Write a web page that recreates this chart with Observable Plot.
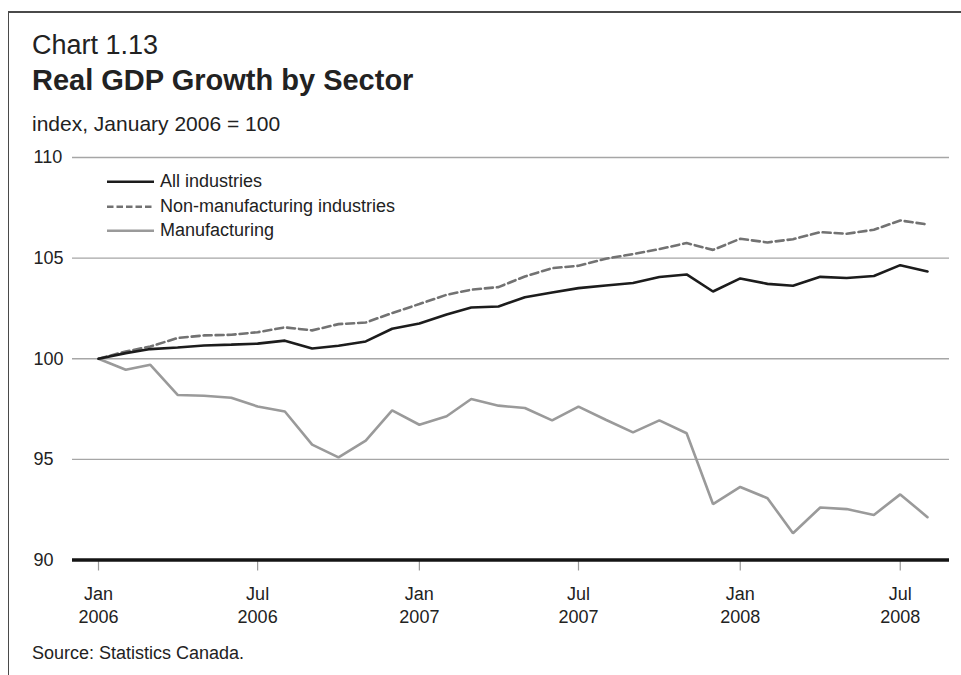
<!DOCTYPE html>
<html>
<head>
<meta charset="utf-8">
<script src="https://cdn.jsdelivr.net/npm/d3@7"></script>
<script src="https://cdn.jsdelivr.net/npm/@observablehq/plot@0.6"></script>
<style>
  html, body { margin: 0; padding: 0; background: #fff; }
  body { width: 961px; height: 675px; position: relative; overflow: hidden;
         font-family: "Liberation Sans", Arial, Helvetica, sans-serif; color: #222; }
  .frame { position: absolute; left: 8px; top: 11px; right: -2px; bottom: -2px;
           border-top: 2px solid #4a4a4a; border-left: 1.5px solid #4a4a4a; }
  .t { position: absolute; left: 32px; white-space: nowrap; line-height: 1; }
  #chart { position: absolute; left: 0; top: 140px; }
  .legend { position: absolute; left: 107px; top: 170px; }
  .legend .row { position: absolute; left: 0; height: 24px; white-space: nowrap; }
  .legend svg { position: absolute; left: 0; top: 0; }
  .legend span { position: absolute; left: 53px; top: 2px; font-size: 18px; line-height: 1; }
</style>
</head>
<body>
<div class="frame"></div>
<div class="t" style="top:32px;font-size:27px;">Chart 1.13</div>
<div class="t" style="top:66px;font-size:29px;font-weight:bold;">Real GDP Growth by Sector</div>
<div class="t" style="top:113px;font-size:21px;">index, January 2006 = 100</div>
<div id="chart"></div>
<div class="legend" id="legend"></div>
<div class="t" style="top:644px;font-size:18px;">Source: Statistics Canada.</div>
<script>
const months = [
  "2006-01","2006-02","2006-03","2006-04","2006-05","2006-06","2006-07","2006-08","2006-09","2006-10","2006-11","2006-12",
  "2007-01","2007-02","2007-03","2007-04","2007-05","2007-06","2007-07","2007-08","2007-09","2007-10","2007-11","2007-12",
  "2008-01","2008-02","2008-03","2008-04","2008-05","2008-06","2008-07","2008-08"
];
const allIndustries = [100, 100.28, 100.48, 100.56, 100.66, 100.70, 100.75, 100.90, 100.51, 100.65, 100.86, 101.49,
  101.75, 102.20, 102.55, 102.60, 103.06, 103.29, 103.51, 103.64, 103.76, 104.06, 104.19, 103.34,
  103.99, 103.72, 103.63, 104.07, 104.01, 104.11, 104.65, 104.34];
const nonManufacturing = [100, 100.36, 100.61, 101.03, 101.16, 101.19, 101.32, 101.56, 101.41, 101.72, 101.80, 102.27,
  102.72, 103.18, 103.43, 103.56, 104.09, 104.50, 104.62, 104.97, 105.20, 105.45, 105.75, 105.41,
  105.96, 105.78, 105.94, 106.29, 106.21, 106.41, 106.87, 106.67];
const manufacturing = [100, 99.45, 99.70, 98.20, 98.16, 98.06, 97.63, 97.38, 95.73, 95.10, 95.93, 97.43,
  96.72, 97.14, 98.00, 97.67, 97.55, 96.94, 97.62, 96.97, 96.34, 96.94, 96.30, 92.78,
  93.63, 93.07, 91.33, 92.61, 92.53, 92.24, 93.26, 92.13];
const seriesNames = ["All industries", "Non-manufacturing industries", "Manufacturing"];
const yTicks = [90, 95, 100, 105, 110];
const xTickMonths = ["2006-01","2006-07","2007-01","2007-07","2008-01","2008-07"];
const xTickLabels = ["Jan\n2006","Jul\n2006","Jan\n2007","Jul\n2007","Jan\n2008","Jul\n2008"];

const toDate = m => new Date(m + "-01T00:00:00Z");
const rowsOf = vals => months.map((m, i) => ({date: toDate(m), value: vals[i]}));
const xTicks = xTickMonths.map(toDate);
const tickLabelByTime = new Map(xTicks.map((d, i) => [+d, xTickLabels[i]]));

const styles = [
  {stroke: "#1c1c1c", strokeWidth: 2.6, dash: null},
  {stroke: "#727272", strokeWidth: 2.6, dash: "8,4"},
  {stroke: "#9a9a9a", strokeWidth: 2.6, dash: null}
];

const chart = Plot.plot({
  width: 961,
  height: 500,
  marginTop: 17,
  marginBottom: 80.5,
  marginLeft: 72,
  marginRight: 12,
  x: {type: "utc", domain: [toDate(months[0]), toDate(months[months.length - 1])], insetLeft: 26, insetRight: 22},
  y: {domain: [90, 110], axis: null},
  style: {fontFamily: "'Liberation Sans', Arial, sans-serif", fontSize: "18px", color: "#222", background: "transparent", overflow: "visible"},
  marks: [
    Plot.ruleY(yTicks.filter(d => d > 90), {stroke: "#a6a6a6", strokeWidth: 1.3}),
    Plot.text(yTicks, {y: d => d, text: d => String(d), frameAnchor: "left", textAnchor: "start", dx: -39, fontSize: 18, fill: "#222"}),
    Plot.axisX({ticks: xTicks, tickSize: 11, tickPadding: 12.7, tickFormat: d => tickLabelByTime.get(+d) ?? "",
      fontSize: 18, lineHeight: 1.28, stroke: "#9a9a9a", strokeWidth: 1.2, fill: "#222"}),
    Plot.ruleY([90], {stroke: "#141414", strokeWidth: 3.6}),
    Plot.line(rowsOf(manufacturing), {x: "date", y: "value", stroke: styles[2].stroke, strokeWidth: styles[2].strokeWidth, strokeLinejoin: "miter"}),
    Plot.line(rowsOf(nonManufacturing), {x: "date", y: "value", stroke: styles[1].stroke, strokeWidth: styles[1].strokeWidth, strokeDasharray: styles[1].dash, strokeLinejoin: "miter"}),
    Plot.line(rowsOf(allIndustries), {x: "date", y: "value", stroke: styles[0].stroke, strokeWidth: styles[0].strokeWidth, strokeLinejoin: "miter"})
  ]
});
document.getElementById("chart").appendChild(chart);

const legend = document.getElementById("legend");
seriesNames.forEach((name, i) => {
  const row = document.createElement("div");
  row.className = "row";
  row.style.top = (i * 24.7) + "px";
  const dash = styles[i].dash ? ` stroke-dasharray="6.5,3"` : "";
  row.innerHTML = `<svg width="48" height="24"><line x1="0" x2="47" y1="11.7" y2="11.7" stroke="${styles[i].stroke}" stroke-width="2.6"${dash}/></svg><span>${name}</span>`;
  legend.appendChild(row);
});
</script>
</body>
</html>
